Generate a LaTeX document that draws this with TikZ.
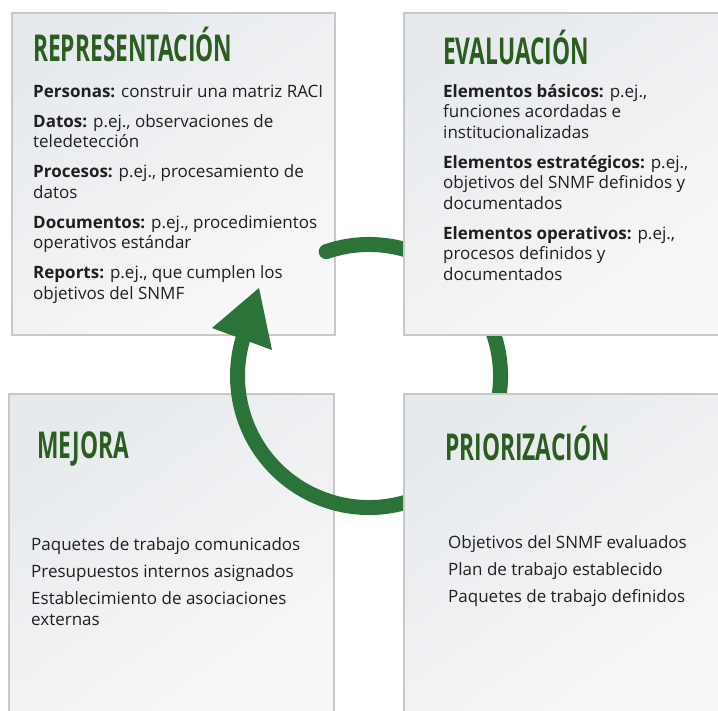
\documentclass[tikz,border=0pt]{standalone}
\usepackage{fontspec}
\setmainfont{Open Sans}
\definecolor{titlegreen}{HTML}{2B5C20}
\definecolor{arcgreen}{HTML}{2B7339}
\definecolor{boxline}{HTML}{C8C8C8}
\definecolor{boxdark}{HTML}{E7EAED}
\definecolor{boxlight}{HTML}{F8F8F9}
\tikzset{
  box/.style={draw=boxline, line width=2pt, top color=boxdark, bottom color=boxlight,
    shading angle=35, anchor=north west, inner sep=0pt},
  title/.style={anchor=base west, inner sep=0pt, text=titlegreen,
    font=\fontsize{37}{37}\selectfont\bfseries},
  body/.style={anchor=base west, inner sep=0pt, align=left, text=black!88,
    font=\fontsize{17}{20.5}\selectfont},
}
\newcommand{\ttl}[1]{\scalebox{0.615}[1]{#1}}
\begin{document}
\begin{tikzpicture}[x=1pt,y=-1pt]
  \def\r{131.5} % radio del ciclo
  \useasboundingbox (0,0) rectangle (718,710);
  \clip (0,0) rectangle (718,710);
  \fill[white] (0,0) rectangle (718,710);
  % cajas de la izquierda
  \node[box, minimum width=323pt, minimum height=322pt] (rep) at (11,12) {};
  \node[box, minimum width=325pt, minimum height=330pt] (mej) at (8,393) {};
  % ciclo
  \coordinate (c) at (369,376);
  \draw[arcgreen, line width=15pt, line cap=round] (c) ++(-109:\r) arc[start angle=-109, end angle=196, radius=\r];
  \coordinate (tip) at (259,288);
  \fill[arcgreen] (tip) -- (212,328) -- (272,350) -- cycle;
  % cajas de la derecha
  \node[box, minimum width=325pt, minimum height=322pt] (eva) at (403,12) {};
  \node[box, minimum width=325pt, minimum height=330pt] (pri) at (403,393) {};
  % titulos
  \node[title] (trep) at (33,61) {\ttl{REPRESENTACIÓN}};
  \node[title] (teva) at (443,64) {\ttl{EVALUACIÓN}};
  \node[title] (tmej) at (37,458) {\ttl{MEJORA}};
  \node[title] (tpri) at (445,460) {\ttl{PRIORIZACIÓN}};
  % textos (base = ultima linea)
  \node[body] (brep) at (33,299) {\textbf{Personas:} construir una matriz RACI\\[9.5pt]
    \textbf{Datos:} p.ej., observaciones de\\ teledetección\\[9.5pt]
    \textbf{Procesos:} p.ej., procesamiento de\\ datos\\[9.5pt]
    \textbf{Documentos:} p.ej., procedimientos\\ operativos estándar\\[9.5pt]
    \textbf{Reports:} p.ej., que cumplen los\\ objetivos del SNMF};
  \node[body] (beva) at (443,280) {\textbf{Elementos básicos:} p.ej.,\\ funciones acordadas e\\ institucionalizadas\\[9.5pt]
    \textbf{Elementos estratégicos:} p.ej.,\\ objetivos del SNMF definidos y\\ documentados\\[9.5pt]
    \textbf{Elementos operativos:} p.ej.,\\ procesos definidos y\\ documentados};
  \node[body] (bmej) at (31,625) {Paquetes de trabajo comunicados\\[6.5pt]
    Presupuestos internos asignados\\[6.5pt]
    Establecimiento de asociaciones\\ externas};
  \node[body] (bpri) at (448,602) {Objetivos del SNMF evaluados\\[6.5pt]
    Plan de trabajo establecido\\[6.5pt]
    Paquetes de trabajo definidos};
\end{tikzpicture}
\end{document}
